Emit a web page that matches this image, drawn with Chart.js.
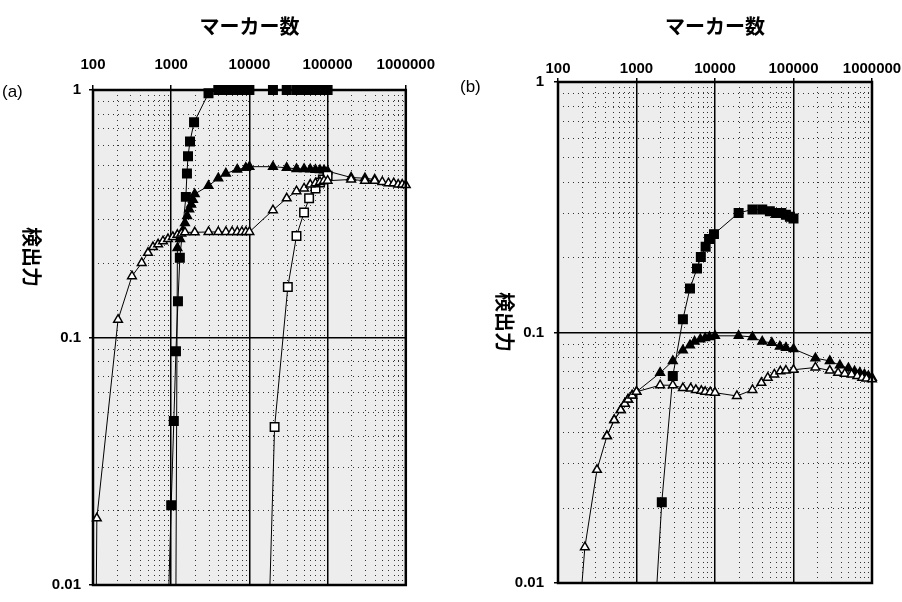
<!DOCTYPE html>
<html>
<head>
<meta charset="utf-8">
<script src="https://cdn.jsdelivr.net/npm/chart.js@4.4.1/dist/chart.umd.min.js"></script>
<style>
  body { margin: 0; background: #fff; width: 902px; height: 602px; position: relative; overflow: hidden; }
  canvas { position: absolute; top: 0; }
  #chartA { left: 0; }
  #chartB { left: 446px; }
  .tag { position: absolute; font: 17px "Liberation Sans", Arial, sans-serif; line-height: 1; color: #000; }
</style>
</head>
<body>
<canvas id="chartA" width="446" height="602"></canvas>
<canvas id="chartB" width="456" height="602"></canvas>
<div class="tag" style="left:2px; top:83px;">(a)</div>
<div class="tag" style="left:460px; top:78px;">(b)</div>

<script>
// axis text
const xTitle = 'マーカー数';
const yTitle = '検出力';
const xTickValues = [100, 1000, 10000, 100000, 1000000];
const xTickLabels = ['100', '1000', '10000', '100000', '1000000'];
const yTickValues = [0.01, 0.1, 1];
const yTickLabels = ['0.01', '0.1', '1'];

// dotted minor grid (2..9 within each decade)
const xDecades = [100, 1000, 10000, 100000];
const yDecades = [0.01, 0.1];
const minorSteps = [2, 3, 4, 5, 6, 7, 8, 9];

// panel (a): [markers, power]
const aSquareFilled = [[860, 0.004], [1000, 0.021], [1080, 0.046], [1150, 0.088], [1220, 0.14], [1290, 0.21],
  [1540, 0.37], [1590, 0.46], [1640, 0.54], [1740, 0.62], [1960, 0.74], [3000, 0.97], [4000, 1], [5000, 1],
  [6000, 1], [7000, 1], [8000, 1], [9000, 1], [10000, 1], [20000, 1], [30000, 1], [40000, 1], [50000, 1],
  [60000, 1], [70000, 1], [80000, 1], [90000, 1], [100000, 1]];
const aTriFilled = [[1135, 0.004], [1200, 0.23], [1300, 0.25], [1400, 0.27], [1500, 0.29], [1600, 0.31],
  [1700, 0.33], [1800, 0.345], [1900, 0.36], [2000, 0.38], [3000, 0.41], [4000, 0.44], [5000, 0.46],
  [7000, 0.477], [9000, 0.485], [10000, 0.49], [20000, 0.49], [30000, 0.485], [40000, 0.48], [50000, 0.48],
  [60000, 0.478], [70000, 0.476], [80000, 0.475], [90000, 0.474], [100000, 0.47], [200000, 0.443],
  [300000, 0.44], [400000, 0.435]];
const aTriOpen = [[108, 0.004], [112, 0.0186], [209, 0.118], [315, 0.177], [420, 0.2], [505, 0.22], [585, 0.232],
  [680, 0.238], [785, 0.245], [910, 0.25], [1050, 0.255], [1200, 0.26], [1350, 0.263], [1500, 0.266],
  [2000, 0.266], [3000, 0.267], [4000, 0.267], [5000, 0.267], [6000, 0.267], [7000, 0.267], [8000, 0.267],
  [9000, 0.267], [10000, 0.267], [20000, 0.327], [30000, 0.365], [40000, 0.39], [50000, 0.4], [60000, 0.415],
  [70000, 0.42], [80000, 0.425], [90000, 0.43], [100000, 0.43], [200000, 0.435], [300000, 0.43], [400000, 0.43],
  [500000, 0.425], [600000, 0.42], [700000, 0.42], [800000, 0.415], [900000, 0.415], [1000000, 0.413]];
const aSquareOpen = [[16800, 0.004], [21000, 0.0435], [31000, 0.16], [40000, 0.257], [50000, 0.32],
  [58000, 0.365], [70000, 0.4], [80000, 0.423], [87000, 0.435], [100000, 0.45]];

// panel (b)
const bSquareFilled = [[1530, 0.004], [2100, 0.021], [2900, 0.067], [3900, 0.113], [4800, 0.15], [5900, 0.18],
  [6600, 0.2], [7600, 0.22], [8400, 0.236], [9700, 0.247], [20000, 0.3], [30000, 0.31], [40000, 0.31],
  [50000, 0.305], [60000, 0.3], [70000, 0.3], [80000, 0.295], [90000, 0.29], [100000, 0.285]];
const bTriFilled = [[420, 0.0386], [520, 0.0447], [630, 0.049], [710, 0.052], [780, 0.054], [880, 0.056],
  [1000, 0.058], [2000, 0.069], [2900, 0.077], [3900, 0.085], [4800, 0.089], [5500, 0.092], [6500, 0.094],
  [7500, 0.095], [8500, 0.096], [10000, 0.097], [20000, 0.097], [30000, 0.096], [40000, 0.092], [53000, 0.091],
  [67000, 0.088], [80000, 0.087], [100000, 0.086], [190000, 0.079], [290000, 0.077], [390000, 0.074],
  [500000, 0.072], [600000, 0.07], [700000, 0.069], [800000, 0.068], [900000, 0.067], [1000000, 0.066]];
const bTriOpen = [[160, 0.004], [220, 0.0139], [314, 0.0283], [420, 0.0386], [520, 0.0447], [630, 0.049],
  [710, 0.052], [780, 0.054], [880, 0.056], [1000, 0.058], [2000, 0.0616], [2900, 0.0616], [3900, 0.06],
  [4900, 0.0598], [5700, 0.059], [6700, 0.0585], [7500, 0.058], [8700, 0.0578], [10000, 0.0575],
  [19000, 0.0558], [30000, 0.059], [39000, 0.063], [47000, 0.066], [57000, 0.068], [68000, 0.07],
  [80000, 0.0705], [100000, 0.071], [190000, 0.0725], [290000, 0.0705], [370000, 0.069], [450000, 0.0685],
  [550000, 0.068], [650000, 0.067], [750000, 0.066], [850000, 0.0655], [1000000, 0.065]];

const tickFont = { family: '"Liberation Sans", Arial, sans-serif', size: 15, weight: 'bold' };
const cjkFont = '"Noto Sans CJK JP", "Noto Sans CJK SC", sans-serif';

function series(points, style, filled) {
  return {
    data: points.map(p => ({ x: p[0], y: p[1] })),
    borderColor: '#000',
    borderWidth: 1,
    pointStyle: style,
    pointRadius: style === 'rect' ? 6 : 5,
    pointBackgroundColor: filled ? '#000' : '#fff',
    pointBorderColor: '#000',
    pointBorderWidth: 1.5,
    tension: 0,
    clip: { left: 10, right: 10, top: 10, bottom: 0 }
  };
}

// grey plot area + dotted minor grid, frame and the rotated y title
const plotArea = {
  id: 'plotArea',
  beforeDraw(chart) {
    const { ctx, chartArea: a, scales: { x, y } } = chart;
    ctx.save();
    ctx.fillStyle = '#ededed';
    ctx.fillRect(a.left, a.top, a.right - a.left, a.bottom - a.top);
    ctx.strokeStyle = '#333';
    ctx.lineWidth = 1;
    ctx.setLineDash([1, 4]);
    ctx.beginPath();
    for (const d of xDecades) {
      for (const k of minorSteps) {
        const px = Math.round(x.getPixelForValue(d * k)) + 0.5;
        ctx.moveTo(px, a.top);
        ctx.lineTo(px, a.bottom);
      }
    }
    for (const d of yDecades) {
      for (const k of minorSteps) {
        const py = Math.round(y.getPixelForValue(d * k)) + 0.5;
        ctx.moveTo(a.left, py);
        ctx.lineTo(a.right, py);
      }
    }
    ctx.stroke();
    ctx.restore();
  },
  afterDraw(chart, args, opts) {
    const { ctx, chartArea: a } = chart;
    ctx.save();
    ctx.strokeStyle = '#000';
    ctx.lineWidth = 2.5;
    ctx.strokeRect(a.left, a.top, a.right - a.left, a.bottom - a.top);

    ctx.translate(opts.titleX, opts.titleY);
    ctx.rotate(Math.PI / 2);
    ctx.font = 'bold 20px ' + cjkFont;
    ctx.fillStyle = '#000';
    ctx.textAlign = 'center';
    ctx.textBaseline = 'middle';
    ctx.fillText(yTitle, 0, 0);
    ctx.restore();
  }
};

function buildPanel(canvasId, datasets, box) {
  const ctx = document.getElementById(canvasId).getContext('2d');
  return new Chart(ctx, {
    type: 'line',
    data: { datasets },
    options: {
      responsive: false,
      animation: false,
      layout: { padding: { left: 0, top: 0, right: box.padRight, bottom: box.padBottom } },
      plugins: {
        legend: { display: false },
        tooltip: { enabled: false },
        plotArea: { titleX: box.yTitleX, titleY: box.yTitleY }
      },
      scales: {
        x: {
          type: 'logarithmic',
          position: 'top',
          min: 100,
          max: 1000000,
          afterBuildTicks: s => { s.ticks = xTickValues.map(v => ({ value: v })); },
          afterFit: s => { s.height = box.top; },
          ticks: {
            callback: (v, i) => xTickLabels[i],
            font: tickFont,
            color: '#000',
            padding: box.xTickPad,
            maxRotation: 0,
            autoSkip: false
          },
          grid: { color: '#000', lineWidth: 1.5, tickLength: box.xTickLen, tickColor: '#000' },
          border: { color: '#000', width: 2 },
          title: {
            display: true,
            text: xTitle,
            color: '#000',
            font: { family: cjkFont, size: 20, weight: 'bold' },
            padding: { top: 14, bottom: 0 }
          }
        },
        y: {
          type: 'logarithmic',
          min: 0.01,
          max: 1,
          afterBuildTicks: s => { s.ticks = yTickValues.map(v => ({ value: v })); },
          afterFit: s => { s.width = box.left; },
          ticks: {
            callback: (v, i) => yTickLabels[i],
            font: tickFont,
            color: '#000',
            padding: box.yTickPad,
            autoSkip: false
          },
          grid: { color: '#000', lineWidth: 1.5, tickLength: 4, tickColor: '#000' },
          border: { color: '#000', width: 2 }
        }
      }
    },
    plugins: [plotArea]
  });
}

buildPanel('chartA', [
  series(aTriOpen, 'triangle', false),
  series(aSquareOpen, 'rect', false),
  series(aTriFilled, 'triangle', true),
  series(aSquareFilled, 'rect', true)
], { left: 93, top: 90, padRight: 40, padBottom: 14, xTickLen: 5, xTickPad: 11, yTickPad: 8, yTitleX: 32, yTitleY: 257 });

buildPanel('chartB', [
  series(bTriOpen, 'triangle', false),
  series(bTriFilled, 'triangle', true),
  series(bSquareFilled, 'rect', true)
], { left: 112, top: 82, padRight: 30, padBottom: 16, xTickLen: 4, xTickPad: 0, yTickPad: 10, yTitleX: 59, yTitleY: 322 });
</script>
</body>
</html>
